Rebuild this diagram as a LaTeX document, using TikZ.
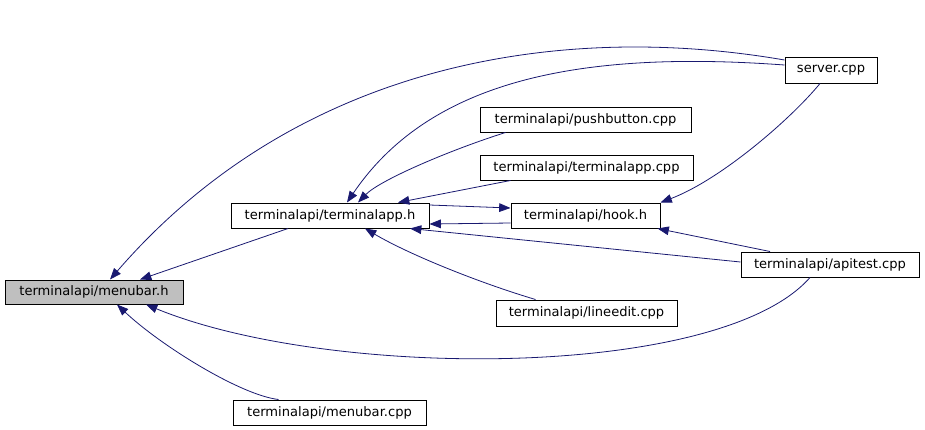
\documentclass[tikz,border=0pt]{standalone}
\usepackage{fontspec}
\setmainfont{DejaVu Sans}
\usetikzlibrary{arrows.meta, calc}
\definecolor{edgeblue}{HTML}{191970}
\tikzset{
  file/.style={draw, rectangle, line width=0.75pt, inner sep=0pt, minimum height=18.75pt, font=\fontsize{9.8}{11}\selectfont},
  focus/.style={file, fill=gray!50},
  flow/.style={-{Triangle[length=8.5pt, width=6.5pt]}, draw=edgeblue, line width=0.6pt},
}
\begin{document}
\begin{tikzpicture}[x=0.75pt, y=-0.75pt]
  \useasboundingbox (0,0) rectangle (925,429);
  % files
  \node[focus, minimum width=133.5pt, minimum height=18pt] (menubar) at (94,292) {terminalapi/menubar.h};
  \node[file, minimum width=148.5pt] (termapp) at (330,215.5) {terminalapi/terminalapp.h};
  \node[file, minimum width=111.75pt] (hook) at (585.5,215.5) {terminalapi/hook.h};
  \node[file, minimum width=69pt, minimum height=19.5pt] (server) at (831,70) {server.cpp};
  \node[file, minimum width=158.25pt] (push) at (585.5,119.5) {terminalapi/pushbutton.cpp};
  \node[file, minimum width=159.75pt] (tapp) at (586.5,167.5) {terminalapi/terminalapp.cpp};
  \node[file, minimum width=133.5pt] (apitest) at (830,264.5) {terminalapi/apitest.cpp};
  \node[file, minimum width=135.75pt, minimum height=19.5pt] (lineedit) at (586.5,313) {terminalapi/lineedit.cpp};
  \node[file, minimum width=144.75pt] (menucpp) at (329.5,412.5) {terminalapi/menubar.cpp};
  % into menubar.h
  \draw[flow] ($(server.west)+(0,-10)$) .. controls (565,22) and (300,60) .. ($(menubar.north)+(16,0)$);
  \draw[flow] ($(termapp.south)+(-42,0)$) -- ($(menubar.north)+(46,0)$);
  \draw[flow] ($(apitest.south)+(-20,0)$) .. controls (720,380) and (330,380) .. ($(menubar.south)+(52,0)$);
  \draw[flow] ($(menucpp.north)+(-51,0)$) .. controls (240,395) and (160,345) .. ($(menubar.south)+(23,0)$);
  % into terminalapp.h
  \draw[flow] ($(server.west)+(0,-5)$) .. controls (580,50) and (430,80) .. ($(termapp.north)+(17,0)$);
  \draw[flow] ($(push.south)+(-80,0)$) .. controls (450,150) and (380,180) .. ($(termapp.north)+(28,0)$);
  \draw[flow] ($(tapp.south)+(-76,0)$) -- ($(termapp.north)+(68,0)$);
  \draw[flow] ($(hook.west)+(0,7.5)$) -- ($(termapp.east)+(0,8.5)$);
  \draw[flow] ($(lineedit.north)+(-51,0)$) .. controls (480,283) and (410,255) .. ($(termapp.south)+(35,0)$);
  \draw[flow] ($(apitest.west)+(0,-2.5)$) -- ($(termapp.south)+(80,0)$);
  % into hook.h
  \draw[flow] ($(termapp.east)+(0,-10.5)$) -- ($(hook.west)+(0,-7.5)$);
  \draw[flow] ($(server.south)+(-11,0)$) .. controls (790,120) and (720,180) .. (hook.north east);
  \draw[flow] ($(apitest.north)+(-60,0)$) -- ($(hook.south east)+(-3,0)$);
\end{tikzpicture}
\end{document}
